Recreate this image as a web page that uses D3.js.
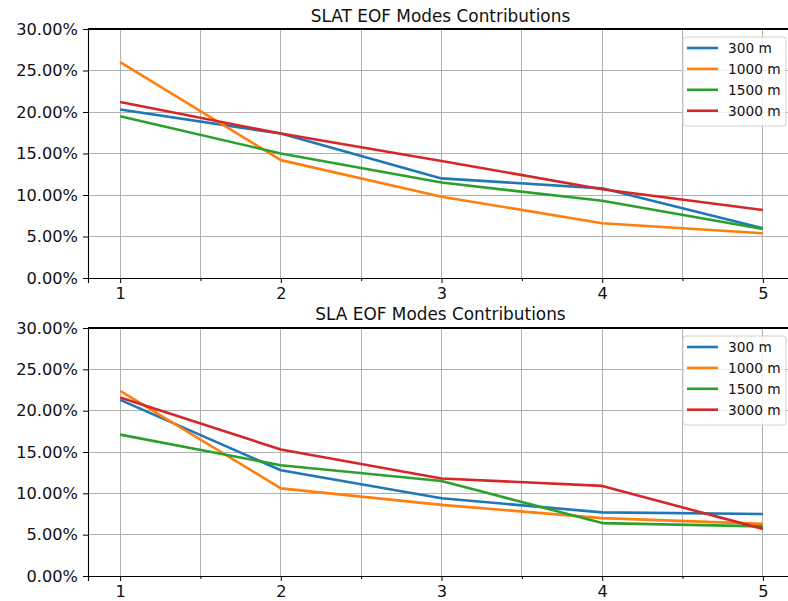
<!DOCTYPE html>
<html>
<head>
<meta charset="utf-8">
<script src="https://cdn.jsdelivr.net/npm/d3@7"></script>
<style>
  html, body { margin: 0; padding: 0; background: #fff; }
  svg { display: block; font-family: "DejaVu Sans", sans-serif; }
</style>
</head>
<body>
<svg id="chart" width="788" height="601"></svg>
<script>
const modes = [1, 2, 3, 4, 5];
const seriesNames = ["300 m", "1000 m", "1500 m", "3000 m"];
const seriesColors = ["#1f77b4", "#ff7f0e", "#2ca02c", "#d62728"];
const yTicks = [0, 0.05, 0.10, 0.15, 0.20, 0.25, 0.30];
const xMajorTicks = [1, 2, 3, 4, 5];
const xMinorTicks = [1.5, 2.5, 3.5, 4.5];

// SLAT panel
const slat300  = [0.203, 0.174, 0.120, 0.108, 0.060];
const slat1000 = [0.260, 0.142, 0.098, 0.066, 0.054];
const slat1500 = [0.195, 0.150, 0.115, 0.093, 0.059];
const slat3000 = [0.212, 0.174, 0.141, 0.107, 0.082];

// SLA panel
const sla300  = [0.213, 0.128, 0.094, 0.077, 0.075];
const sla1000 = [0.224, 0.106, 0.086, 0.070, 0.063];
const sla1500 = [0.171, 0.134, 0.115, 0.064, 0.060];
const sla3000 = [0.216, 0.153, 0.118, 0.109, 0.057];

const panels = [
  { title: "SLAT EOF Modes Contributions", series: [slat300, slat1000, slat1500, slat3000], top: 29, bottom: 278, titleY: 22 },
  { title: "SLA EOF Modes Contributions",  series: [sla300, sla1000, sla1500, sla3000],   top: 328, bottom: 576, titleY: 320 }
];

const svg = d3.select("#chart");
const left = 88, right = 795;
const x = d3.scaleLinear().domain([0.8, 5.2]).range([left, right]);
const fmt = d3.format(".2%");

panels.forEach(p => {
  const y = d3.scaleLinear().domain([0, 0.30]).range([p.bottom, p.top]);
  const g = svg.append("g");

  // grid
  const grid = g.append("g");
  grid.selectAll("line.gy").data(yTicks).join("line")
    .attr("x1", left).attr("x2", right)
    .attr("y1", d => y(d)).attr("y2", d => y(d))
    .attr("stroke", "#b0b0b0").attr("stroke-width", 1).attr("shape-rendering", "crispEdges");
  grid.selectAll("line.gx").data(xMajorTicks.concat(xMinorTicks)).join("line")
    .attr("y1", p.top).attr("y2", p.bottom)
    .attr("x1", d => x(d)).attr("x2", d => x(d))
    .attr("stroke", "#b0b0b0").attr("stroke-width", 1).attr("shape-rendering", "crispEdges");

  // lines
  const line = d3.line().x((d, i) => x(modes[i])).y(d => y(d));
  p.series.forEach((s, k) => {
    g.append("path").datum(s)
      .attr("d", line)
      .attr("fill", "none")
      .attr("stroke", seriesColors[k])
      .attr("stroke-width", 2.6)
      .attr("stroke-linejoin", "round")
      .attr("stroke-linecap", "butt");
  });

  // axes
  const yAxis = d3.axisLeft(y).tickValues(yTicks).tickFormat(fmt).tickSizeOuter(0).tickSize(5).tickPadding(5);
  const ya = g.append("g").attr("transform", `translate(${left},0)`).call(yAxis);
  ya.select(".domain").attr("stroke", "#000").attr("stroke-width", 1.1);
  ya.selectAll(".tick line").attr("stroke", "#000");
  ya.selectAll(".tick text").attr("font-size", 16.2).attr("fill", "#111").attr("font-family", "DejaVu Sans");

  const xAxis = d3.axisBottom(x).tickValues(xMajorTicks).tickFormat(d3.format("d")).tickSizeOuter(0).tickSize(5).tickPadding(4);
  const xa = g.append("g").attr("transform", `translate(0,${p.bottom})`).call(xAxis);
  xa.select(".domain").attr("stroke", "#000").attr("stroke-width", 1.1);
  xa.selectAll(".tick line").attr("stroke", "#000");
  xa.selectAll(".tick text").attr("font-size", 16.2).attr("fill", "#111").attr("font-family", "DejaVu Sans");
  const xMinor = d3.axisBottom(x).tickValues(xMinorTicks).tickFormat("").tickSizeOuter(0).tickSize(3);
  const xm = g.append("g").attr("transform", `translate(0,${p.bottom})`).call(xMinor);
  xm.select(".domain").remove();
  xm.selectAll(".tick line").attr("stroke", "#000");

  // top spine
  g.append("line").attr("x1", left).attr("x2", right).attr("y1", p.top).attr("y2", p.top)
    .attr("stroke", "#000").attr("stroke-width", 1.1).attr("shape-rendering", "crispEdges");

  // title
  g.append("text").attr("x", (left + right) / 2 - 1).attr("y", p.titleY)
    .attr("text-anchor", "middle").attr("font-size", 16.9).attr("fill", "#111")
    .text(p.title);

  // legend
  const lx = 683, ly = p.top + 8, lw = 103, lh = 89;
  const lg = g.append("g");
  lg.append("rect").attr("x", lx).attr("y", ly).attr("width", lw).attr("height", lh)
    .attr("rx", 3).attr("fill", "#fff").attr("fill-opacity", 0.8)
    .attr("stroke", "#d0d0d0").attr("stroke-width", 1);
  seriesNames.forEach((name, k) => {
    const ry = ly + 11 + k * 20.9;
    lg.append("line").attr("x1", lx + 4).attr("x2", lx + 35).attr("y1", ry).attr("y2", ry)
      .attr("stroke", seriesColors[k]).attr("stroke-width", 2.6);
    lg.append("text").attr("x", lx + 45).attr("y", ry + 5)
      .attr("font-size", 13.7).attr("fill", "#111").text(name);
  });
});
</script>
</body>
</html>
